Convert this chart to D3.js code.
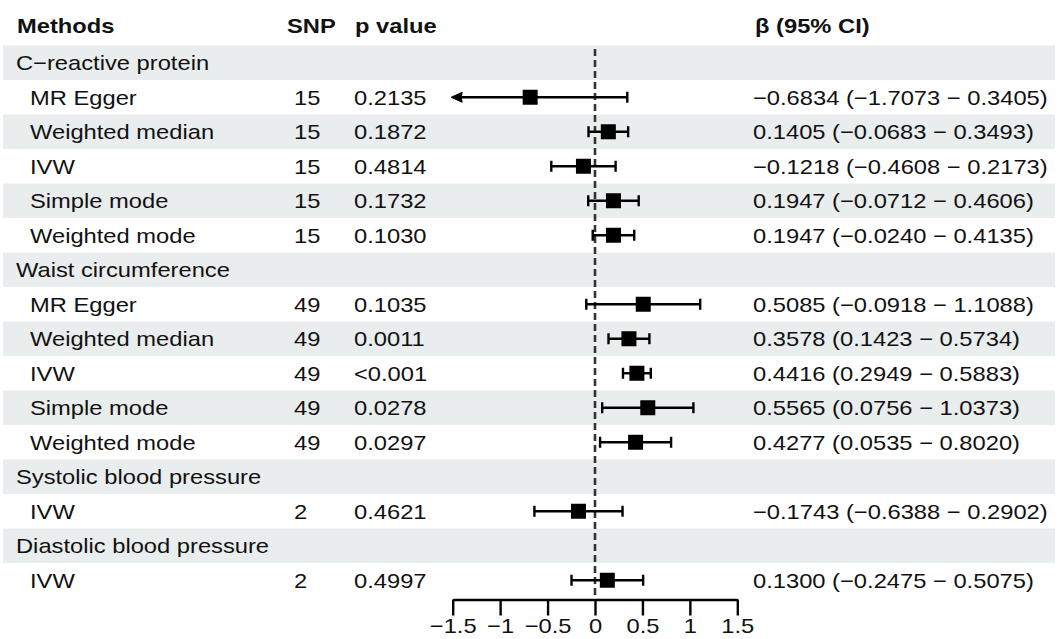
<!DOCTYPE html>
<html>
<head>
<meta charset="utf-8">
<script src="https://cdn.jsdelivr.net/npm/d3@7"></script>
<style>
  body { margin: 0; background: #fff; }
  text { font-family: Arial, "Liberation Sans", sans-serif; fill: #111; }
</style>
</head>
<body>
<div id="chart"></div>
<script>
// Row labels, one per line of the table (groups have no numbers)
const rowLabels = ['C\u2212reactive protein', 'MR Egger', 'Weighted median', 'IVW', 'Simple mode', 'Weighted mode',
    'Waist circumference', 'MR Egger', 'Weighted median', 'IVW', 'Simple mode', 'Weighted mode',
    'Systolic blood pressure', 'IVW',
    'Diastolic blood pressure', 'IVW']
const isGroup = [true, false, false, false, false, false,
    true, false, false, false, false, false,
    true, false,
    true, false]
const snp = ['', '15', '15', '15', '15', '15',
    '', '49', '49', '49', '49', '49',
    '', '2',
    '', '2']
const pValue = ['', '0.2135', '0.1872', '0.4814', '0.1732', '0.1030',
    '', '0.1035', '0.0011', '<0.001', '0.0278', '0.0297',
    '', '0.4621',
    '', '0.4997']
const beta = [null, -0.6834, 0.1405, -0.1218, 0.1947, 0.1947,
    null, 0.5085, 0.3578, 0.4416, 0.5565, 0.4277,
    null, -0.1743,
    null, 0.1300]
const lower = [null, -1.7073, -0.0683, -0.4608, -0.0712, -0.0240,
    null, -0.0918, 0.1423, 0.2949, 0.0756, 0.0535,
    null, -0.6388,
    null, -0.2475]
const upper = [null, 0.3405, 0.3493, 0.2173, 0.4606, 0.4135,
    null, 1.1088, 0.5734, 0.5883, 1.0373, 0.8020,
    null, 0.2902,
    null, 0.5075]
const xTicks = [-1.5, -1, -0.5, 0, 0.5, 1, 1.5]

const width = 1058, height = 639
const fontSize = 21, stretch = 1.13
const bandColor = '#e9eded'
const lw = 2.4

const rows = rowLabels.map((d, i) => ({
    label: d, group: isGroup[i], snp: snp[i], p: pValue[i],
    est: beta[i], lo: lower[i], hi: upper[i]
}))

const fmt = v => d3.format('.4f')(v)
const ciText = d => `${fmt(d.est)} (${fmt(d.lo)} \u2212 ${fmt(d.hi)})`

const svg = d3.select('#chart').append('svg')
    .attr('width', width)
    .attr('height', height)

const x = d3.scaleLinear().domain([-1.5, 1.5]).range([452.7, 737.3])
const y = d3.scaleLinear().domain([0, rows.length]).range([45.5, 597.5])
const rowH = y(1) - y(0)
const cy = i => y(i + 0.5)

// zebra bands
svg.selectAll('.band')
    .data(rows.filter((d, i) => i % 2 === 0).map((d, k) => k * 2))
    .join('rect')
    .attr('class', 'band')
    .attr('x', 3)
    .attr('y', i => y(i))
    .attr('width', 1052)
    .attr('height', rowH)
    .attr('fill', bandColor)

// helper for horizontally stretched text
function addText(g, str, px, py, bold, anchor) {
    g.append('text')
        .attr('transform', `translate(${px},${py}) scale(${stretch},1)`)
        .attr('font-size', fontSize)
        .attr('font-weight', bold ? 'bold' : null)
        .attr('text-anchor', anchor || 'start')
        .text(str)
}

// header
const head = svg.append('g')
addText(head, 'Methods', 17, 33, true)
addText(head, 'SNP', 287, 33, true)
addText(head, 'p value', 355, 33, true)
addText(head, '\u03b2 (95% CI)', 755, 33, true)

// table text
const body = svg.append('g')
rows.forEach((d, i) => {
    const base = cy(i) + 7.5
    addText(body, d.label, d.group ? 16 : 30, base, false)
    if (!d.group) {
        addText(body, d.snp, 294, base, false)
        addText(body, d.p, 354, base, false)
        addText(body, ciText(d), 753, base, false)
    }
})

// reference line at zero
svg.append('line')
    .attr('x1', x(0)).attr('x2', x(0))
    .attr('y1', 49).attr('y2', 599)
    .attr('stroke', '#333')
    .attr('stroke-width', 2.6)
    .attr('stroke-dasharray', '7,4')

// confidence intervals
const est = rows.map((d, i) => ({...d, i})).filter(d => !d.group)
const capH = 5.5, box = 15

const ci = svg.append('g')
ci.selectAll('.ci-line')
    .data(est)
    .join('line')
    .attr('x1', d => x(Math.max(d.lo, -1.5)) + (d.lo < -1.5 ? 8 : 0))
    .attr('x2', d => x(Math.min(d.hi, 1.5)))
    .attr('y1', d => cy(d.i)).attr('y2', d => cy(d.i))
    .attr('stroke', '#000').attr('stroke-width', lw)

ci.selectAll('.cap')
    .data(est.flatMap(d => [
        {v: d.lo, i: d.i, arrow: d.lo < -1.5},
        {v: d.hi, i: d.i, arrow: d.hi > 1.5}]).filter(c => !c.arrow))
    .join('line')
    .attr('x1', c => x(c.v)).attr('x2', c => x(c.v))
    .attr('y1', c => cy(c.i) - capH).attr('y2', c => cy(c.i) + capH)
    .attr('stroke', '#000').attr('stroke-width', lw)

// arrow where the interval runs off the axis
ci.selectAll('.arrow')
    .data(est.filter(d => d.lo < -1.5))
    .join('path')
    .attr('d', d => {
        const tx = x(-1.5) - 1.5, ty = cy(d.i)
        return `M${tx},${ty} L${tx + 11},${ty - 5} L${tx + 10},${ty} L${tx + 11},${ty + 5} Z`
    })
    .attr('fill', '#000')
    .attr('stroke', '#000')
    .attr('stroke-width', 1)
    .attr('stroke-linejoin', 'round')

ci.selectAll('.box')
    .data(est)
    .join('rect')
    .attr('x', d => x(d.est) - box / 2)
    .attr('y', d => cy(d.i) - box / 2)
    .attr('width', box)
    .attr('height', box)
    .attr('fill', '#000')

// x axis
const axis = svg.append('g')
    .attr('transform', 'translate(0,599.5)')
    .call(d3.axisBottom(x)
        .tickValues(xTicks)
        .tickFormat(d3.format('~g'))
        .tickSize(16)
        .tickSizeOuter(0)
        .tickPadding(3))
axis.select('.domain').attr('stroke', '#000').attr('stroke-width', lw)
axis.selectAll('.tick line').attr('stroke', '#000').attr('stroke-width', lw)
axis.selectAll('.tick text')
    .attr('font-size', fontSize)
    .attr('font-family', 'Arial, "Liberation Sans", sans-serif')
    .attr('fill', '#111')
    .attr('transform', `scale(${stretch},1)`)
</script>
</body>
</html>
